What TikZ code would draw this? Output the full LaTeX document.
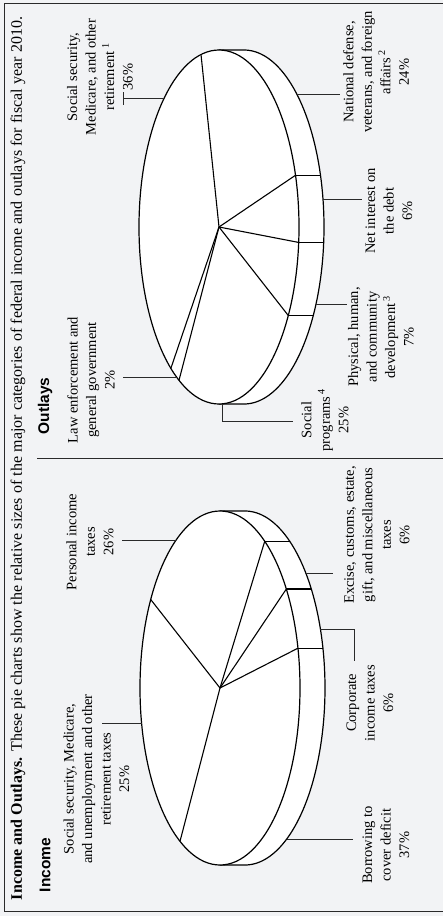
\documentclass[tikz,border=0pt]{standalone}
\usepackage{fontspec}
\setmainfont{Liberation Serif}
\newfontfamily\headfont{Liberation Sans}
\definecolor{bg}{HTML}{F2F3F5}
\definecolor{ink}{HTML}{2A2A2A}
\begin{document}
\begin{tikzpicture}[x=1pt,y=-1pt,
  pieside/.style={draw=black,line width=1.2pt,fill=white,line join=round},
  pietop/.style={draw=black,line width=1.2pt,fill=white},
  slice/.style={draw=black,line width=1.1pt},
  leader/.style={draw=ink,line width=0.75pt},
  lbl/.style={rotate=90,align=center,inner sep=0pt,font=\fontsize{14.5}{18.5}\selectfont},
  head/.style={rotate=90,inner sep=0pt,font=\headfont\bfseries\fontsize{15.5}{18}\selectfont},
  frame/.style={draw=ink,line width=1pt}]
\fill[bg] (0,0) rectangle (443,916);
\useasboundingbox (0,0) rectangle (443,916);
% frame
\draw[frame] (443,3) -- (4,3) -- (4,911) -- (443,911);
\draw[frame] (37,458) -- (443,458);
% title
\node[rotate=90,inner sep=0pt,font=\fontsize{16}{18}\selectfont] (title) at (18,458.5)
  {\makebox[883pt][s]{\textbf{Income and Outlays.} These pie charts show the relative sizes of the major categories of federal income and outlays for fiscal year 2010.}};
\node[head] (hin) at (45,865) {Income};
\node[head] (hout) at (45,406) {Outlays};

% ---------------- Income pie ----------------
\begin{scope}[shift={(220,688)}]
  \path[pieside] (0,-177) -- plot[domain=-90:90,samples=90] ({25+80*cos(\x)},{177*sin(\x)}) -- (0,177) -- cycle;
  \path[pietop] (0,0) ellipse [x radius=80, y radius=177];
  \coordinate (ic) at (0,0);
  \foreach \t/\n in {-150/a,-56/b,-34/c,-13/d,120/e}{
    \coordinate (is\n) at ({80*cos(\t)},{177*sin(\t)});
    \draw[slice] (ic) -- (is\n);
  }
  \foreach \n in {b,c,d}{ \draw[slice] (is\n) -- ++(25,0); }
  \coordinate (ipers) at ({80*cos(-123.3)},{177*sin(-123.3)});
  \coordinate (issec) at ({80*cos(168.6)},{177*sin(168.6)});
  \coordinate (iborr) at ({25+80*cos(58.5)},{177*sin(58.5)});
  \coordinate (icorp) at ({25+80*cos(-19.5)},{177*sin(-19.5)});
  \coordinate (iexc) at ({25+80*cos(-40.5)},{177*sin(-40.5)});
\end{scope}
\coordinate (epers) at (122,540);
\coordinate (essec) at (102,723);
\coordinate (eborr) at (353,839);
\coordinate (ecorp) at (354,629);
\coordinate (ecorp2) at (354,661);
\coordinate (eexc) at (333,573);
\draw[leader] (ipers) -- (ipers -| epers);
\draw[leader] (issec) -- (issec -| essec);
\draw[leader] (iborr) -- (iborr -| eborr);
\draw[leader] (icorp) -- (icorp -| ecorp) -- (ecorp2);
\draw[leader] (iexc) -- (iexc -| eexc);

\node[lbl] (lpers) at (90,542) {Personal income\\taxes\\26\%};
\node[lbl] (lssec) at (96.5,779) {Social security, Medicare,\\and unemployment and other\\retirement taxes\\25\%};
\node[lbl] (lborr) at (386,845) {Borrowing to\\cover deficit\\37\%};
\node[lbl] (lcorp) at (370,703) {Corporate\\income taxes\\6\%};
\node[lbl] (lexc) at (377,535) {Excise, customs, estate,\\gift, and miscellaneous\\taxes\\6\%};

% ---------------- Outlays pie ----------------
\begin{scope}[shift={(219,227)}]
  \path[pieside] (0,-177) -- plot[domain=-90:90,samples=90] ({25+80*cos(\x)},{177*sin(\x)}) -- (0,177) -- cycle;
  \path[pietop] (0,0) ellipse [x radius=80, y radius=177];
  \coordinate (oc) at (0,0);
  \foreach \t/\n in {-103/a,-17/b,5/c,30/d,120/e,127/f}{
    \coordinate (os\n) at ({80*cos(\t)},{177*sin(\t)});
    \draw[slice] (oc) -- (os\n);
  }
  \foreach \n in {b,c,d}{ \draw[slice] (os\n) -- ++(25,0); }
  \coordinate (ossec) at ({80*cos(-133.2)},{177*sin(-133.2)});
  \coordinate (onat) at ({25+80*cos(-48.7)},{177*sin(-48.7)});
  \coordinate (onet) at ({25+80*cos(-9.1)},{177*sin(-9.1)});
  \coordinate (ophys) at ({25+80*cos(25.8)},{177*sin(25.8)});
  \coordinate (osoc) at (3,177);
  \coordinate (olaw) at ({80*cos(122)},{177*sin(122)});
\end{scope}
\coordinate (essec2) at (123,98);
\coordinate (tickA) at (123,92);
\coordinate (tickB) at (123,105);
\coordinate (enat) at (340,94);
\coordinate (enet) at (362,199);
\coordinate (ephys) at (347,304);
\coordinate (esoc) at (222,421);
\coordinate (esoc2) at (293,421);
\coordinate (elaw) at (123,377);
\draw[leader] (ossec) -- (ossec -| essec2);
\draw[leader] (tickA) -- (tickB);
\draw[leader] (onat) -- (onat -| enat);
\draw[leader] (onet) -- (onet -| enet);
\draw[leader] (ophys) -- (ophys -| ephys);
\draw[leader] (osoc) -- (esoc) -- (esoc2);
\draw[leader] (olaw) -- (olaw -| elaw);

\node[lbl] (lssec2) at (100,77) {Social security,\\Medicare, and other\\retirement\,\textsuperscript{1}\\36\%};
\node[lbl] (lnat) at (376,72) {National defense,\\veterans, and foreign\\affairs\,\textsuperscript{2}\\24\%};
\node[lbl] (lnet) at (389,211) {Net interest on\\the debt\\6\%};
\node[lbl] (lphys) at (381,337) {Physical, human,\\and community\\development\,\textsuperscript{3}\\7\%};
\node[lbl] (lsoc) at (325,420) {Social\\programs\,\textsuperscript{4}\\25\%};
\node[lbl] (llaw) at (91,380) {Law enforcement and\\general government\\2\%};
\end{tikzpicture}
\end{document}
